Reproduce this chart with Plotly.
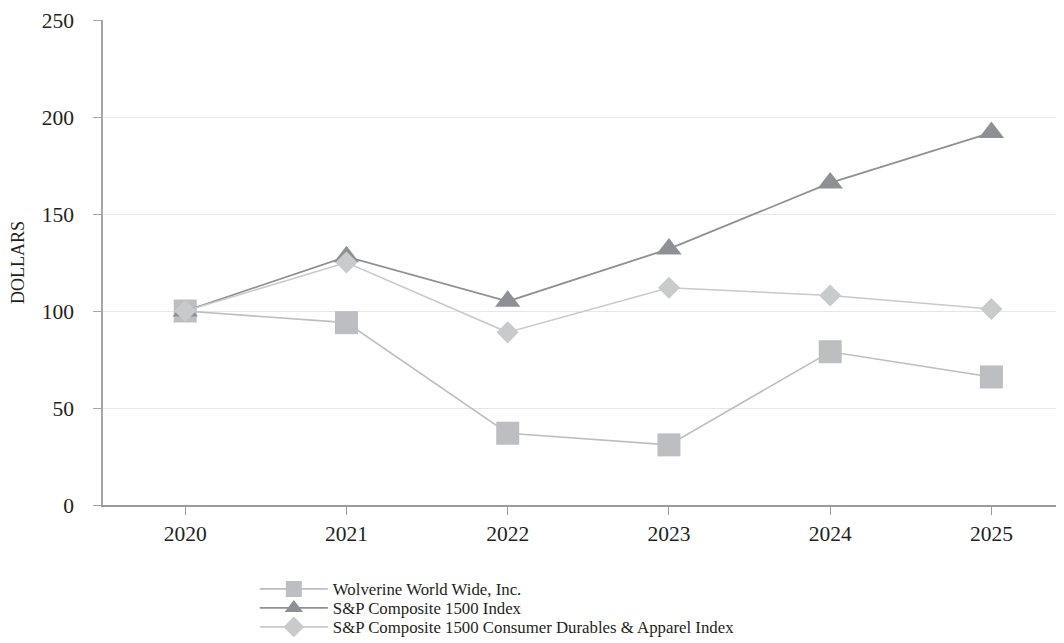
import plotly.graph_objects as go

years = [2020, 2021, 2022, 2023, 2024, 2025]
wolverine = [100, 94, 37, 31, 79, 66]
sp1500 = [100, 128, 105, 132, 166, 192]
durables = [100, 125, 89, 112, 108, 101]

names = ["Wolverine World Wide, Inc.",
         "S&P Composite 1500 Index",
         "S&P Composite 1500 Consumer Durables & Apparel Index"]

fig = go.Figure()
fig.add_trace(go.Scatter(x=years, y=wolverine, name=names[0], mode="lines+markers",
                         legend="legend",
                         line=dict(color="#BDBEC1", width=1.6),
                         marker=dict(symbol="square", size=23, color="#BDBEC1")))
fig.add_trace(go.Scatter(x=years, y=sp1500, name=names[1], mode="lines+markers",
                         legend="legend2",
                         line=dict(color="#8F9094", width=1.8),
                         marker=dict(symbol="triangle-up", size=22, color="#8F9094")))
fig.add_trace(go.Scatter(x=years, y=durables, name=names[2], mode="lines+markers",
                         legend="legend3",
                         line=dict(color="#C9CACC", width=1.6),
                         marker=dict(symbol="diamond", size=17, color="#C9CACC")))

font = "Liberation Serif, Times New Roman, serif"
leg_common = dict(x=0.158, xanchor="left", yanchor="middle",
                  font=dict(size=16.8, family=font, color="#231F20"),
                  itemwidth=68, bgcolor="rgba(0,0,0,0)")

fig.update_layout(
    width=1056, height=635,
    margin=dict(l=95, r=0, t=12, b=138, autoexpand=False),
    paper_bgcolor="white", plot_bgcolor="white",
    font=dict(family=font, color="#231F20", size=16),
    showlegend=True,
    legend=dict(y=-0.1732, **leg_common),
    legend2=dict(y=-0.2124, **leg_common),
    legend3=dict(y=-0.2515, **leg_common),
    xaxis=dict(range=[2019.49, 2025.45], tickmode="array", tickvals=years,
               ticktext=[str(y) for y in years], showgrid=False, zeroline=False,
               showline=True, linecolor="#9A9B9E", linewidth=2,
               ticks="outside", ticklen=8, tickcolor="#9A9B9E", tickwidth=1,
               tickfont=dict(size=21.5, family=font, color="#231F20")),
    yaxis=dict(range=[0, 250], tickvals=[0, 50, 100, 150, 200, 250],
               showgrid=True, gridcolor="#E6E6E7", gridwidth=1, zeroline=False,
               showline=True, linecolor="#A5A6A9", linewidth=1.5,
               ticks="outside", ticklen=8, tickcolor="#A5A6A9", tickwidth=1,
               ticklabelstandoff=15,
               tickfont=dict(size=21.5, family=font, color="#231F20"),
               title=dict(text="DOLLARS", font=dict(size=18, family=font, color="#231F20"),
                          standoff=14)),
)

fig.write_html("out.html")
